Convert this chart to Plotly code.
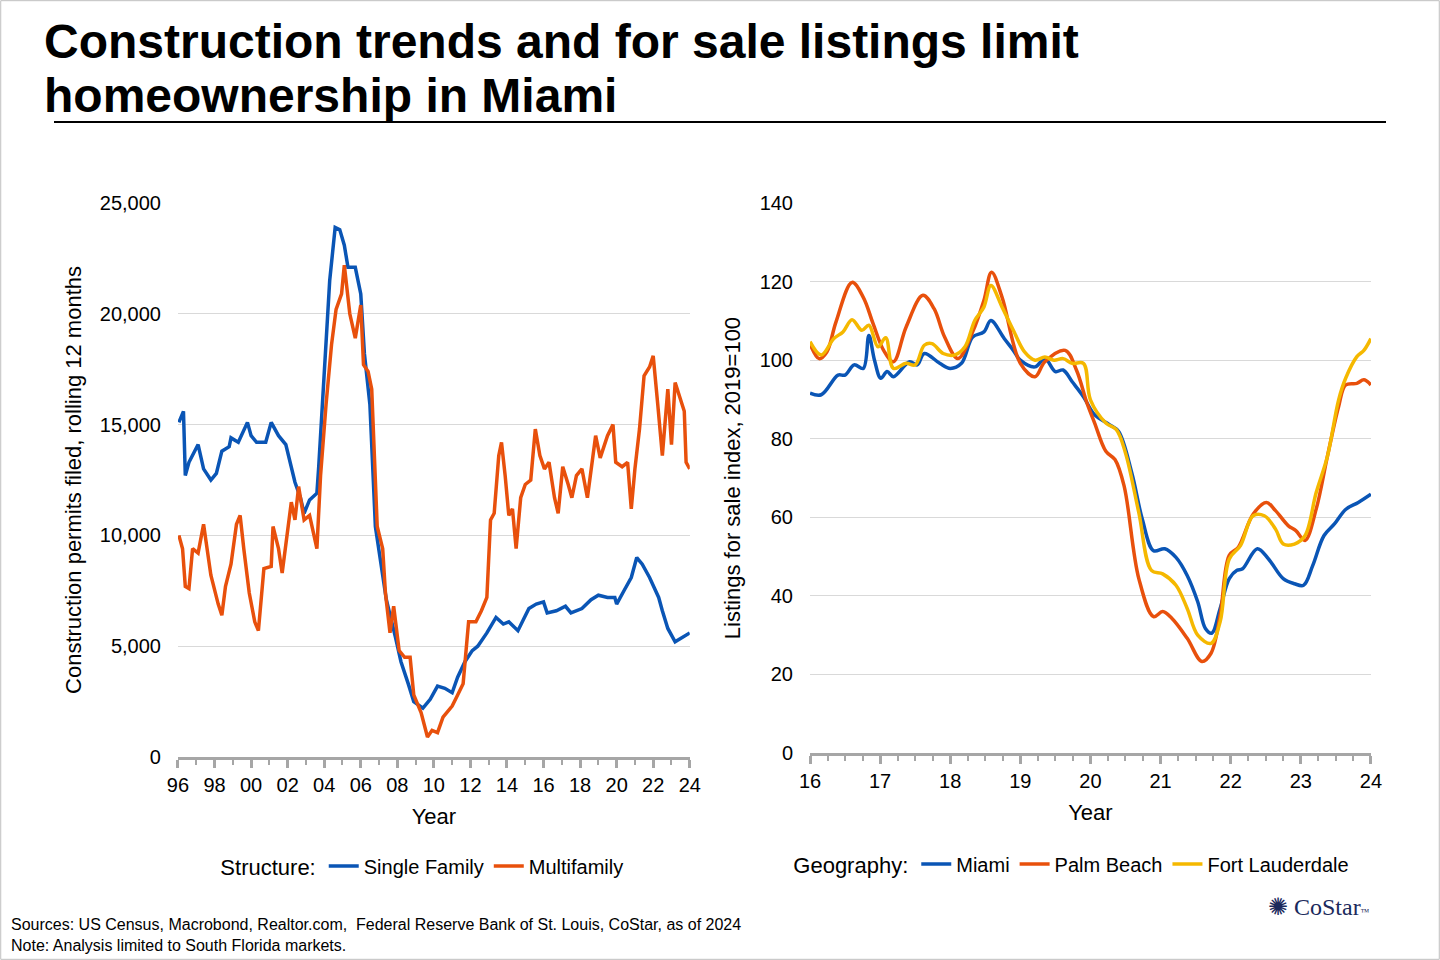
import plotly.graph_objects as go

# Left chart: construction permits (rolling 12 months)
sf_year = [1996.05,1996.3,1996.4,1996.6,1997.1,1997.4,1997.8,1998.1,1998.4,1998.8,1998.9,1999.3,1999.8,2000.0,2000.3,2000.8,2001.1,2001.5,2001.9,2002.2,2002.4,2002.7,2002.9,2003.2,2003.6,2003.7,2003.9,2004.1,2004.3,2004.6,2004.85,2005.1,2005.3,2005.7,2006.0,2006.2,2006.5,2006.8,2007.1,2007.4,2007.9,2008.2,2008.6,2008.9,2009.4,2009.8,2010.2,2010.6,2011.0,2011.3,2011.7,2012.1,2012.4,2012.9,2013.4,2013.8,2014.1,2014.6,2014.9,2015.2,2015.6,2016.0,2016.2,2016.7,2017.2,2017.5,2018.1,2018.6,2019.0,2019.5,2019.9,2020.0,2020.4,2020.8,2021.1,2021.4,2021.8,2022.3,2022.5,2022.8,2023.2,2023.6,2024.0]
sf_vals = [15100,15600,12700,13300,14100,13000,12500,12800,13800,14000,14400,14200,15100,14500,14200,14200,15100,14500,14100,13000,12400,11700,11000,11600,11900,13100,15900,18900,21500,23900,23800,23100,22100,22100,20900,18200,15900,10400,8700,7100,5400,4300,3300,2500,2200,2600,3200,3100,2900,3600,4300,4800,5000,5600,6300,6000,6100,5700,6200,6700,6900,7000,6500,6600,6800,6500,6700,7100,7300,7200,7200,6900,7500,8100,9000,8700,8100,7200,6600,5800,5200,5400,5600]
mf_year = [1996.05,1996.25,1996.4,1996.6,1996.8,1997.1,1997.4,1997.8,1998.2,1998.4,1998.6,1998.9,1999.2,1999.4,1999.6,1999.9,2000.2,2000.4,2000.7,2001.1,2001.2,2001.5,2001.7,2002.0,2002.2,2002.4,2002.6,2002.9,2003.2,2003.6,2003.8,2004.1,2004.4,2004.65,2004.95,2005.1,2005.4,2005.7,2006.0,2006.15,2006.4,2006.6,2006.9,2007.2,2007.35,2007.6,2007.8,2008.1,2008.4,2008.7,2008.9,2009.3,2009.65,2009.9,2010.2,2010.5,2011.0,2011.3,2011.6,2011.9,2012.3,2012.6,2012.9,2013.1,2013.3,2013.55,2013.7,2013.9,2014.1,2014.3,2014.5,2014.75,2015.0,2015.3,2015.55,2015.8,2016.05,2016.3,2016.6,2016.8,2017.05,2017.35,2017.55,2017.8,2018.1,2018.4,2018.65,2018.85,2019.1,2019.5,2019.8,2019.95,2020.3,2020.6,2020.8,2021.0,2021.25,2021.5,2021.8,2022.0,2022.25,2022.5,2022.8,2023.0,2023.2,2023.45,2023.7,2023.8,2024.0]
mf_vals = [10000,9400,7700,7600,9400,9200,10500,8200,6900,6400,7700,8700,10500,10900,9400,7400,6100,5700,8500,8600,10400,9400,8300,10300,11500,10700,12200,10700,10900,9400,12700,15900,18600,20200,20900,22200,20000,18900,20400,17700,17400,16600,10400,9400,7400,5600,6800,4800,4500,4500,2800,2000,900,1200,1100,1800,2300,2800,3300,6100,6100,6600,7200,10700,11000,13600,14200,12700,10900,11200,9400,11700,12300,12500,14800,13600,13000,13300,11700,11000,13100,12300,11700,12700,13000,11700,13300,14500,13500,14500,15000,13300,13100,13300,11200,13000,14800,17200,17600,18100,15900,13600,16600,14100,16900,16300,15600,13300,13000]

# Right chart: listings for sale index, 2019=100
mia_year = [2016.0,2016.16,2016.4,2016.5,2016.63,2016.76,2016.84,2016.92,2017.01,2017.1,2017.19,2017.42,2017.53,2017.63,2017.85,2018.0,2018.16,2018.32,2018.48,2018.58,2018.77,2018.9,2019.0,2019.21,2019.35,2019.5,2019.61,2019.74,2019.9,2020.06,2020.27,2020.4,2020.59,2020.74,2020.9,2021.06,2021.22,2021.38,2021.53,2021.64,2021.73,2021.85,2021.98,2022.09,2022.17,2022.38,2022.54,2022.75,2022.91,2023.04,2023.17,2023.33,2023.48,2023.64,2023.82,2024.0]
mia_vals = [91.6,91.2,96.2,96.2,98.8,97.9,106.3,100,95.4,97.1,95.8,99.6,98.8,101.7,99.2,97.9,99.2,105.9,107.2,110.1,105.5,102.5,100,98.3,100.4,97.1,97.5,94.5,90.7,86.1,83.6,81.9,71.3,59.5,51.5,52.0,49.8,45.2,38.5,31.7,30.5,36.8,44.4,46.5,46.9,52.0,49.4,44.4,43.1,42.7,47.7,55.3,58.3,62.0,63.8,65.9]
pb_year = [2016.0,2016.13,2016.24,2016.37,2016.6,2016.76,2016.9,2017.05,2017.19,2017.37,2017.61,2017.77,2017.92,2018.11,2018.32,2018.48,2018.59,2018.74,2019.0,2019.21,2019.35,2019.64,2019.8,2019.95,2020.06,2020.22,2020.35,2020.48,2020.69,2020.9,2021.03,2021.16,2021.38,2021.59,2021.72,2021.85,2021.98,2022.11,2022.32,2022.51,2022.64,2022.82,2022.93,2023.06,2023.22,2023.38,2023.54,2023.64,2023.8,2023.9,2024.0]
pb_vals = [104.2,100.4,102.1,109.7,119.8,116.0,109.3,102.5,99.6,108.4,116.5,113.1,105.9,100.4,107.2,115.2,122.4,116.0,99.2,95.8,99.6,102.5,97.5,89.1,84.0,76.8,74.7,68.0,44.4,34.7,36.0,34.3,29.2,23.3,25.4,35.1,50.3,52.4,60.8,63.8,61.7,57.9,56.6,54.1,62.1,75.5,88.2,93.7,94.1,95.0,93.7]
fl_year = [2016.0,2016.16,2016.34,2016.47,2016.6,2016.74,2016.84,2016.97,2017.08,2017.19,2017.37,2017.5,2017.63,2017.74,2017.9,2018.06,2018.21,2018.35,2018.48,2018.58,2018.74,2018.9,2019.06,2019.21,2019.35,2019.48,2019.61,2019.74,2019.9,2020.0,2020.22,2020.37,2020.5,2020.69,2020.87,2021.03,2021.22,2021.38,2021.53,2021.72,2021.85,2021.98,2022.14,2022.32,2022.48,2022.64,2022.75,2022.91,2023.06,2023.22,2023.38,2023.54,2023.64,2023.8,2023.9,2024.0]
fl_vals = [104.7,101.3,105.5,107.2,110.3,107.6,108.9,103.4,105.7,97.9,99.2,98.8,103.8,104.2,101.7,101.3,103.4,110.1,113.5,119.0,113.5,107.6,102.1,100,100.8,100,100.4,99.2,99.2,89.9,84.0,82.3,76.4,61.2,46.5,45.6,42.7,36.8,30.0,27.9,33.4,49.4,52.8,60.4,60.4,57.0,53.2,53.2,55.3,66.3,75.5,89.9,95.4,100.9,102.5,105.5]

left_ticks = list(range(1996, 2025, 2))
left_labels = [f"{y % 100:02d}" for y in left_ticks]
right_ticks = list(range(2016, 2025))
right_labels = [f"{y % 100:02d}" for y in right_ticks]

BLUE = "#0A55B5"
ORANGE = "#E8500C"
YELLOW = "#F5B800"
FONT = "Liberation Sans, Arial, sans-serif"

fig = go.Figure()
fig.add_trace(go.Scatter(x=sf_year, y=sf_vals, name="Single Family", mode="lines",
                         line=dict(color=BLUE, width=3.5), legend="legend"))
fig.add_trace(go.Scatter(x=mf_year, y=mf_vals, name="Multifamily", mode="lines",
                         line=dict(color=ORANGE, width=3.5), legend="legend"))
fig.add_trace(go.Scatter(x=mia_year, y=mia_vals, name="Miami", mode="lines", xaxis="x2", yaxis="y2",
                         line=dict(color=BLUE, width=3.5, shape="spline"), legend="legend2"))
fig.add_trace(go.Scatter(x=pb_year, y=pb_vals, name="Palm Beach", mode="lines", xaxis="x2", yaxis="y2",
                         line=dict(color=ORANGE, width=3.5, shape="spline"), legend="legend2"))
fig.add_trace(go.Scatter(x=fl_year, y=fl_vals, name="Fort Lauderdale", mode="lines", xaxis="x2", yaxis="y2",
                         line=dict(color=YELLOW, width=3.5, shape="spline"), legend="legend2"))

axis_common = dict(showline=True, linecolor="#A6A6A6", linewidth=3, ticks="outside",
                   tickcolor="#A6A6A6", tickwidth=3, ticklen=8, showgrid=False, automargin=False,
                   tickfont=dict(size=20, color="#000"), zeroline=False)
grid_y = dict(showgrid=True, gridcolor="#D9D9D9", gridwidth=1, showline=False, ticks="", automargin=False,
              ticklabelstandoff=16, tickfont=dict(size=20, color="#000"), zeroline=False)

fig.update_layout(
    width=1440, height=960, margin=dict(l=0, r=0, t=0, b=0, autoexpand=False),
    paper_bgcolor="white", plot_bgcolor="white",
    font=dict(family=FONT, color="#000"),
    xaxis=dict(domain=[0.1236, 0.479], range=[1996, 2024], tickvals=left_ticks, ticktext=left_labels,
               minor=dict(dtick=1, ticks="outside", ticklen=5, tickcolor="#A6A6A6", tickwidth=2),
               title=dict(text="Year", font=dict(size=22), standoff=14), anchor="y", **axis_common),
    yaxis=dict(domain=[0.2115, 0.7885], range=[0, 25000], tickvals=[0,5000,10000,15000,20000,25000],
               tickformat=",",
               title=dict(text="Construction permits filed, rolling 12 months", font=dict(size=22), standoff=12),
               anchor="x", **grid_y),
    xaxis2=dict(domain=[0.5625, 0.952], range=[2016, 2024], tickvals=right_ticks, ticktext=right_labels,
                minor=dict(dtick=0.25, ticks="outside", ticklen=5, tickcolor="#A6A6A6", tickwidth=2),
                title=dict(text="Year", font=dict(size=22), standoff=14), anchor="y2", **axis_common),
    yaxis2=dict(domain=[0.2156, 0.7885], range=[0, 140], tickvals=list(range(0, 141, 20)),
                title=dict(text="Listings for sale index, 2019=100", font=dict(size=22), standoff=12),
                anchor="x2", **grid_y),
    legend=dict(orientation="h", x=0.294, y=0.098, xanchor="center", yanchor="middle",
                title=dict(text="Structure:", font=dict(size=22), side="left"),
                font=dict(size=20), itemwidth=30, bgcolor="rgba(0,0,0,0)"),
    legend2=dict(orientation="h", x=0.745, y=0.1, xanchor="center", yanchor="middle",
                 title=dict(text="Geography:", font=dict(size=22), side="left"),
                 font=dict(size=20), itemwidth=30, bgcolor="rgba(0,0,0,0)"),
)

for txt, ypix in [("Construction trends and for sale listings limit", 42),
                  ("homeownership in Miami", 95)]:
    fig.add_annotation(xref="paper", yref="paper", x=42/1440, y=1-ypix/960, xanchor="left", yanchor="middle",
                       showarrow=False, text=f"<b>{txt}</b>",
                       font=dict(size=48, color="#000", family=FONT))
fig.add_annotation(xref="paper", yref="paper", x=9/1440, y=1-914/960, xanchor="left", yanchor="top",
                   align="left", showarrow=False,
                   text="Sources: US Census, Macrobond, Realtor.com,  Federal Reserve Bank of St. Louis, CoStar, as of 2024<br>Note: Analysis limited to South Florida markets.",
                   font=dict(size=16, color="#000", family=FONT))
fig.add_annotation(xref="paper", yref="paper", x=1372/1440, y=1-907/960, xanchor="right", yanchor="middle",
                   showarrow=False, text="✺ CoStar<span style='font-size:9px'>™</span>",
                   font=dict(size=24, color="#1B2A5C", family="Liberation Serif, serif"))
fig.add_shape(type="line", xref="paper", yref="paper", x0=54/1440, x1=1386/1440,
              y0=1-122/960, y1=1-122/960, line=dict(color="#000", width=2))
fig.add_shape(type="rect", xref="paper", yref="paper", x0=0.0005, x1=0.9995, y0=0.0007, y1=0.9993,
              line=dict(color="#BFBFBF", width=1))

fig.write_html("out.html", config={"displayModeBar": False},
               post_script="document.body.style.margin='0';document.body.style.overflow='hidden';")
